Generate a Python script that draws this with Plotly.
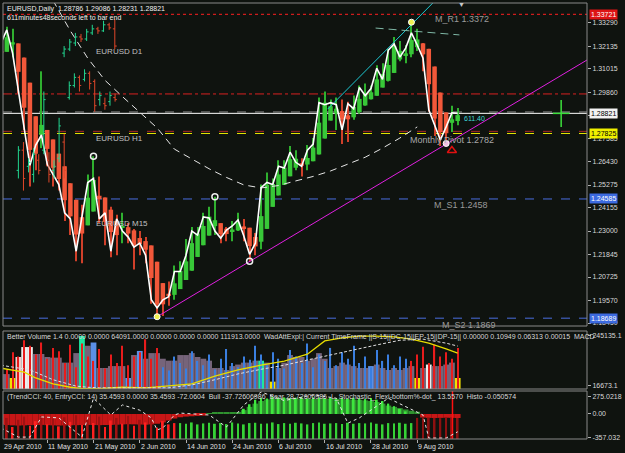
import plotly.graph_objects as go

# ---------------- data ----------------
dates = ["29 Apr 2010","30 Apr 2010","3 May 2010","4 May 2010","5 May 2010","6 May 2010","7 May 2010","10 May 2010",
         "11 May 2010","12 May 2010","13 May 2010","14 May 2010","17 May 2010","18 May 2010","19 May 2010","20 May 2010",
         "21 May 2010","24 May 2010","25 May 2010","26 May 2010","27 May 2010","28 May 2010","31 May 2010","1 Jun 2010",
         "2 Jun 2010","3 Jun 2010","4 Jun 2010","7 Jun 2010","8 Jun 2010","9 Jun 2010","10 Jun 2010","11 Jun 2010",
         "14 Jun 2010","15 Jun 2010","16 Jun 2010","17 Jun 2010","18 Jun 2010","21 Jun 2010","22 Jun 2010","23 Jun 2010",
         "24 Jun 2010","25 Jun 2010","28 Jun 2010","29 Jun 2010","30 Jun 2010","1 Jul 2010","2 Jul 2010","5 Jul 2010",
         "6 Jul 2010","7 Jul 2010","8 Jul 2010","9 Jul 2010","12 Jul 2010","13 Jul 2010","14 Jul 2010","15 Jul 2010",
         "16 Jul 2010","19 Jul 2010","20 Jul 2010","21 Jul 2010","22 Jul 2010","23 Jul 2010","26 Jul 2010","27 Jul 2010",
         "28 Jul 2010","29 Jul 2010","30 Jul 2010","2 Aug 2010","3 Aug 2010","4 Aug 2010","5 Aug 2010","6 Aug 2010",
         "9 Aug 2010","10 Aug 2010","11 Aug 2010","12 Aug 2010","13 Aug 2010","16 Aug 2010","17 Aug 2010","18 Aug 2010"]
date_tick_idx = [0, 8, 16, 24, 32, 40, 48, 56, 64, 72]

opens = [1.3150,1.3230,1.3295,1.3180,1.3000,1.2820,1.2625,1.2725,1.2775,1.2630,
         1.2580,1.2530,1.2390,1.2360,1.2200,1.2380,1.2540,1.2560,1.2360,1.2390,
         1.2200,1.2360,1.2300,1.2270,1.2220,1.2240,1.2180,1.1960,1.1920,1.1960,
         1.1975,1.2100,1.2100,1.2180,1.2300,1.2280,1.2370,1.2365,1.2300,1.2265,
         1.2305,1.2325,1.2355,1.2275,1.2185,1.2240,1.2515,1.2540,1.2530,1.2620,
         1.2612,1.2690,1.2640,1.2620,1.2700,1.2730,1.2935,1.2925,1.2935,1.2925,
         1.2800,1.2930,1.2905,1.3010,1.2970,1.3005,1.3105,1.3050,1.3195,1.3225,
         1.3160,1.3205,1.3280,1.3220,1.3155,1.2900,1.2825,1.2750,1.2815,1.2879]
highs = [1.3240,1.3310,1.3300,1.3190,1.3020,1.2840,1.2780,1.3090,1.2800,1.2720,
         1.2620,1.2540,1.2460,1.2420,1.2430,1.2580,1.2670,1.2570,1.2400,1.2420,
         1.2380,1.2390,1.2340,1.2310,1.2300,1.2270,1.2190,1.1990,1.1990,1.2050,
         1.2130,1.2150,1.2260,1.2320,1.2320,1.2390,1.2420,1.2469,1.2330,1.2320,
         1.2350,1.2390,1.2360,1.2290,1.2290,1.2530,1.2590,1.2560,1.2650,1.2650,
         1.2720,1.2700,1.2660,1.2725,1.2760,1.2960,1.2990,1.2950,1.2960,1.2950,
         1.2940,1.2970,1.3020,1.3030,1.3020,1.3120,1.3130,1.3200,1.3260,1.3240,
         1.3220,1.3333,1.3300,1.3230,1.3160,1.2930,1.2860,1.2840,1.2920,1.2909]
lows = [1.3110,1.3200,1.3160,1.2980,1.2800,1.2520,1.2600,1.2710,1.2620,1.2520,
        1.2500,1.2350,1.2280,1.2150,1.2140,1.2360,1.2440,1.2340,1.2230,1.2170,
        1.2180,1.2240,1.2240,1.2110,1.2180,1.2140,1.1940,1.1876,1.1880,1.1930,
        1.1960,1.2060,1.2060,1.2160,1.2250,1.2260,1.2330,1.2280,1.2240,1.2250,
        1.2250,1.2300,1.2250,1.2150,1.2180,1.2210,1.2470,1.2500,1.2520,1.2570,
        1.2600,1.2600,1.2570,1.2600,1.2660,1.2720,1.2890,1.2860,1.2800,1.2730,
        1.2740,1.2850,1.2880,1.2920,1.2950,1.2970,1.3020,1.3040,1.3180,1.3140,
        1.3130,1.3160,1.3190,1.3090,1.2890,1.2770,1.2720,1.2730,1.2790,1.2823]
closes = [1.3230,1.3295,1.3180,1.3000,1.2820,1.2625,1.2725,1.2775,1.2630,1.2580,
          1.2530,1.2390,1.2360,1.2200,1.2380,1.2540,1.2560,1.2360,1.2390,1.2200,
          1.2360,1.2300,1.2270,1.2220,1.2240,1.2180,1.1960,1.1920,1.1960,1.1975,
          1.2100,1.2100,1.2180,1.2300,1.2280,1.2370,1.2365,1.2300,1.2265,1.2305,
          1.2325,1.2355,1.2275,1.2185,1.2240,1.2515,1.2540,1.2530,1.2620,1.2612,
          1.2690,1.2640,1.2620,1.2700,1.2730,1.2935,1.2925,1.2935,1.2925,1.2800,
          1.2930,1.2905,1.3010,1.2970,1.3005,1.3105,1.3050,1.3195,1.3225,1.3160,
          1.3205,1.3280,1.3220,1.3155,1.2900,1.2825,1.2750,1.2815,1.2885,1.2882]

price_ticks = [1.33290, 1.32135, 1.31015, 1.29860, 1.28705, 1.27585, 1.26430,
               1.25275, 1.24155, 1.23000, 1.21845, 1.20725, 1.19570, 1.18450]

# horizontal levels: M_R1, D1 level, grey, bid, dark red, pivot, M_S1, M_S2
level_prices = [1.3372, 1.2978, 1.2889, 1.28821, 1.2793, 1.27825, 1.24585, 1.18689]

# long moving average (dashed arc)
ma_idx = [9, 12, 15, 18, 21, 24, 27, 30, 33, 36, 39, 42, 45, 48, 51, 54, 57, 60, 63, 66, 69, 72]
ma_val = [1.3440, 1.3290, 1.3155, 1.3045, 1.2965, 1.2885, 1.2810, 1.2705, 1.2655, 1.2608, 1.2565,
          1.2528, 1.2513, 1.2525, 1.2548, 1.2570, 1.2597, 1.2630, 1.2665, 1.2710, 1.2760, 1.2815]

# trend lines (bar index, price)
magenta_idx = [27, 101.37]
magenta_val = [1.1876, 1.3146]
cyan_idx = [56.5, 74.7]
cyan_val = [1.2903, 1.3428]
teal_idx = [64.8, 79.3]
teal_val = [1.3304, 1.3270]

# swing markers
swing_idx = [16, 37, 43]
swing_val = [1.2670, 1.2469, 1.2150]
yellow_idx = [27, 71]
yellow_val = [1.1876, 1.3333]
pink_idx = [77]
pink_val = [1.2733]
arrow_idx = [78]
arrow_val = [1.2698]

# projection cross on the right
proj_idx = 96.9
proj_high, proj_low, proj_mid = 1.2948, 1.2815, 1.2882

# small overlaid lower-timeframe charts (left side)
mini_open  = [1.2600,1.2700,1.2620,1.2580,1.2650,1.2700,1.2650,1.2600,1.2660,1.2740,
              1.2960,1.3020,1.3060,1.3050,1.3080,1.3040,1.2950,1.2930,1.2940,1.2960]
mini_high  = [1.2720,1.2740,1.2660,1.2710,1.2680,1.2990,1.2690,1.2650,1.2860,1.2780,
              1.3040,1.3080,1.3070,1.3100,1.3090,1.3050,1.2990,1.2960,1.2990,1.2980]
mini_low   = [1.2560,1.2500,1.2590,1.2540,1.2580,1.2680,1.2540,1.2560,1.2640,1.2560,
              1.2950,1.3010,1.2990,1.3040,1.3000,1.2890,1.2920,1.2900,1.2920,1.2940]
mini_close = [1.2700,1.2560,1.2640,1.2680,1.2600,1.2950,1.2580,1.2620,1.2820,1.2600,
              1.3020,1.3060,1.3020,1.3080,1.3030,1.2920,1.2970,1.2920,1.2970,1.2950]
d1_open  = [1.3180, 1.3200, 1.3230, 1.3260, 1.3250, 1.3280, 1.3300, 1.3290, 1.3320, 1.3300]
d1_high  = [1.3215, 1.3250, 1.3280, 1.3275, 1.3300, 1.3320, 1.3310, 1.3340, 1.3330, 1.3350]
d1_low   = [1.3160, 1.3190, 1.3215, 1.3235, 1.3240, 1.3270, 1.3275, 1.3285, 1.3295, 1.3200]
d1_close = [1.3200, 1.3235, 1.3260, 1.3250, 1.3285, 1.3300, 1.3290, 1.3320, 1.3305, 1.3215]

# Better Volume panel
vol_main = [69000,69000,51000,148000,194000,194000,162000,162000,148000,145000,
            145000,122000,122000,166000,245000,200000,215000,97000,97000,106000,
            106000,106000,51000,157000,176000,140000,166000,166000,140000,131000,
            131000,157000,157000,166000,148000,140000,131000,97000,97000,88000,
            106000,113000,122000,122000,131000,131000,122000,34000,97000,122000,
            157000,148000,148000,131000,140000,166000,140000,97000,106000,122000,
            113000,106000,97000,97000,106000,113000,97000,88000,97000,88000,
            97000,106000,51000,97000,113000,106000,106000,113000,122000,51000]
vol_class = ("nnypww" + "nnnnnnnn" + "g" + "n" + "b" + "nnnnn" + "b" + "n" + "b" +
             "nnnnnnnnnnnnnnnnnnnn" + "g" + "n" + "y" + "nnnnnnnnnnnnnnnn" + "b" +
             "nnnnnnn" + "y" + "n" + "w" + "nnnn" + "y")
tick_vol = [110000,90000,170000,150000,225000,200000,160000,215000,140000,190000,
            175000,120000,205000,100000,210000,150000,130000,185000,95000,160000,
            120000,200000,110000,150000,170000,230000,140000,190000,100000,85000,
            150000,120000,95000,175000,130000,110000,160000,90000,140000,185000,
            120000,100000,150000,135000,200000,160000,110000,170000,140000,95000,
            180000,150000,120000,210000,100000,160000,130000,190000,110000,170000,
            140000,200000,120000,150000,100000,180000,130000,160000,110000,150000,
            140000,130000,160000,195000,120000,205000,150000,170000,140000,190000]
tick_class = ("rrrrrrrrrr" + "rrrrrrrrrr" + "rrrrrrrr" +
              "bbbbbbbbbb" + "bbbbbbbbbb" + "bbbbbbbbbb" + "bbbbbbbbbb" + "bbb" +
              "rrrrrrrrr")
macd_idx = [0, 4, 6, 9, 12, 14, 17, 21, 25, 29, 33, 37, 41, 45, 49, 53, 56, 59, 62, 65, 68, 71, 74, 77, 79]
macd_val = [36, 29, 19, 9, 3, 0.5, 0.5, 3, 2, 5, 9, 22, 33, 41, 48, 60, 83, 88, 91, 91, 90, 86, 79, 69, 62]
sig_idx = [0, 5, 9, 13, 15, 17, 29, 33, 37, 41, 45, 49, 53, 57, 61, 65, 69, 73, 77, 79]
sig_val = [41, 33, 16, 5, 3, 2, 2, 7, 16, 26, 34, 41, 50, 59, 67, 76, 84, 86, 79, 74]

# CCI panel
trend_cci = [-160,-170,-175,-178,-175,-172,-170,-168,-172,-175,
             -178,-176,-174,-172,-170,-168,-170,-172,-170,-168,
             -165,-160,-158,-160,-162,-165,-160,-150,-130,-100,
             -70,-50,-40,-35,-30,-25,15,18,20,20,
             22,25,60,110,160,200,225,235,240,240,
             238,236,235,232,230,232,235,236,234,230,
             225,222,218,210,200,185,160,130,110,90,
             70,50,35,-55,-60,-62,-60,-58,-60,-62]
entry_idx = list(range(42, 71))
entry_cci = [80,150,220,250,240,260,250,255,245,250,260,240,255,250,245,
             250,240,255,235,250,240,230,245,220,200,160,120,80,40]
osc_hist = [-150,-60,-200,-90,-40,-180,-110,-30,-160,-70,
            -190,-50,-120,-20,-170,-80,-140,-40,-200,-100,
            -60,-150,-30,-180,-90,-130,-50,-210,-110,-160,
            -140,-140,-150,-130,-160,-145,-135,-150,-140,-155,
            -130,-145,-160,-140,-135,-150,-145,-130,-155,-140,
            -150,-135,-145,-160,-140,-130,-150,-145,-140,-155,
            -135,-150,-140,-145,-130,-150,-160,-140,-145,-135,
            -150,-140,-60,-62,-58,-60,-64,-60,-58,-62]
osc_class = ("rrrrrrrrrr" + "rrrrrrrrrr" + "rrrrrrrrrrr" +
             "gggggggggg" + "gggggggggg" + "gggggggggg" + "gggggggggg" + "g" +
             "dddddddd")
stoch_idx = [0, 3, 5, 7, 10, 12, 14, 16, 19, 21, 24, 26, 27, 28, 30, 31, 36, 39, 42, 45,
             49, 54, 58, 60, 62, 67, 73, 74, 77, 79]
stoch_val = [23, 4, 4, 46, 44, 23, 4, 85, 50, 71, 60, 44, 19, 23, 50, 54, 50, 25, 71, 98,
             80, 92, 85, 33, 44, 85, 50, 2, 2, 15]
histo_mark_idx = 78.1

# ---------------- derived (Heiken Ashi indicator) ----------------
n = len(closes)
idx = list(range(n))
ha_close = [(o + h + l + c) / 4 for o, h, l, c in zip(opens, highs, lows, closes)]
ha_open = [(opens[0] + closes[0]) / 2]
for k in range(1, n):
    ha_open.append((ha_open[k - 1] + ha_close[k - 1]) / 2)
ha_high = [max(h, a, b) for h, a, b in zip(highs, ha_open, ha_close)]
ha_low = [min(l, a, b) for l, a, b in zip(lows, ha_open, ha_close)]
ha_up = [c >= o for o, c in zip(ha_open, ha_close)]

UP, DN = "#38c838", "#f2583a"
UPW, DNW = "#2fb02f", "#d0402a"
BG = "#0f130f"
FRAME = "#8a8a8a"
TXT = "#d8d8d8"
FONT = "Liberation Sans"
X0, X1 = 0.342, 101.37

fig = go.Figure()

# mini lower-timeframe charts (own x axes placed over the left part of the main panel)
fig.add_trace(go.Ohlc(x=list(range(len(mini_open))), open=mini_open, high=mini_high, low=mini_low,
                      close=mini_close, xaxis="x2", yaxis="y",
                      increasing=dict(line=dict(color="#22d690", width=1)),
                      decreasing=dict(line=dict(color="#e0472a", width=1)), tickwidth=0.35))
fig.add_trace(go.Ohlc(x=list(range(len(d1_open))), open=d1_open, high=d1_high, low=d1_low,
                      close=d1_close, xaxis="x3", yaxis="y",
                      increasing=dict(line=dict(color="#22d690", width=1)),
                      decreasing=dict(line=dict(color="#e0472a", width=1)), tickwidth=0.35))

# HA wicks + bodies
fig.add_trace(go.Bar(x=idx, base=ha_low, y=[h - l for h, l in zip(ha_high, ha_low)], width=0.18,
                     marker=dict(color=[UPW if u else DNW for u in ha_up], line=dict(width=0)), yaxis="y"))
fig.add_trace(go.Bar(x=idx, base=[min(a, b) for a, b in zip(ha_open, ha_close)],
                     y=[max(abs(b - a), 0.0005) for a, b in zip(ha_open, ha_close)], width=0.78,
                     marker=dict(color=[UP if u else DN for u in ha_up], line=dict(width=0)), yaxis="y"))

# MA arc, trend lines
fig.add_trace(go.Scatter(x=ma_idx, y=ma_val, mode="lines", line=dict(color="#e6e6e6", width=1, dash="7px,5px"), yaxis="y"))
fig.add_trace(go.Scatter(x=magenta_idx, y=magenta_val, mode="lines", line=dict(color="#e020e0", width=1), yaxis="y"))
fig.add_trace(go.Scatter(x=cyan_idx, y=cyan_val, mode="lines", line=dict(color="#1ec8d2", width=1), yaxis="y"))
fig.add_trace(go.Scatter(x=teal_idx, y=teal_val, mode="lines", line=dict(color="#7fb8a6", width=1, dash="8px,5px"), yaxis="y"))

# close line
fig.add_trace(go.Scatter(x=idx, y=closes, mode="lines", line=dict(color="#ffffff", width=1.6), yaxis="y"))

# swing markers
fig.add_trace(go.Scatter(x=swing_idx, y=swing_val, mode="markers", yaxis="y",
                         marker=dict(symbol="circle-open", size=6, color="#f0f0f0", line=dict(width=1.5, color="#f0f0f0"))))
fig.add_trace(go.Scatter(x=yellow_idx, y=yellow_val, mode="markers", yaxis="y",
                         marker=dict(symbol="circle", size=6, color="#f0f050", line=dict(color="#ffffff", width=1))))
fig.add_trace(go.Scatter(x=pink_idx, y=pink_val, mode="markers", yaxis="y",
                         marker=dict(symbol="circle", size=6, color="#f0c0e0", line=dict(color="#ffffff", width=1))))
fig.add_trace(go.Scatter(x=arrow_idx, y=arrow_val, mode="markers", yaxis="y",
                         marker=dict(symbol="triangle-up-open", size=8, color="#e01010", line=dict(width=1.5, color="#e01010"))))

# projection cross
fig.add_trace(go.Scatter(x=[proj_idx, proj_idx], y=[proj_high, proj_low], mode="lines",
                         line=dict(color="#3ce03c", width=1.5), yaxis="y"))
fig.add_trace(go.Scatter(x=[proj_idx], y=[proj_mid], mode="markers", yaxis="y",
                         marker=dict(symbol="line-ew", size=12, color="#3ce03c", line=dict(color="#3ce03c", width=1.5))))

# volume panel
vcol = {"n": "#76647a", "w": "#ececec", "p": "#f2caca", "y": "#f2e000", "g": "#1ee6a0", "b": "#5b8fe6"}
fig.add_trace(go.Bar(x=idx, y=vol_main, width=1.0, marker=dict(color=[vcol[c] for c in vol_class], line=dict(width=0)), yaxis="y2"))
tcol = {"r": "#e81c1c", "b": "#3a7fe0"}
fig.add_trace(go.Bar(x=idx, y=tick_vol, width=0.2, marker=dict(color=[tcol[c] for c in tick_class], line=dict(width=0)), yaxis="y2"))
fig.add_trace(go.Scatter(x=macd_idx, y=macd_val, mode="lines", line=dict(color="#e6dc00", width=1.3), yaxis="y4"))
fig.add_trace(go.Scatter(x=sig_idx, y=sig_val, mode="lines", line=dict(color="#e0e0e0", width=1, dash="3px,2px"), yaxis="y4"))

# CCI panel
fig.add_trace(go.Bar(x=idx, y=trend_cci, width=1.0,
                     marker=dict(color=["#2f922f" if v >= 0 else "#c81616" for v in trend_cci], line=dict(width=0)), yaxis="y3"))
ocol = []
for c, v in zip(osc_class, osc_hist):
    if c == "g":
        ocol.append("#36d236")
    elif c == "d":
        ocol.append("#8c1010")
    else:
        ocol.append("#ff2020" if v <= -100 else "#a01212")
fig.add_trace(go.Bar(x=idx, base=[-385] * n, y=[v + 385 for v in osc_hist], width=0.32,
                     marker=dict(color=ocol, line=dict(width=0)), yaxis="y3"))
fig.add_trace(go.Bar(x=entry_idx, y=entry_cci, width=0.32, marker=dict(color="#3ee63e", line=dict(width=0)), yaxis="y3"))
fig.add_trace(go.Scatter(x=[histo_mark_idx, histo_mark_idx], y=[-385, 354], mode="lines",
                         line=dict(color="#ff1010", width=1.5), yaxis="y3"))
fig.add_trace(go.Scatter(x=stoch_idx, y=stoch_val, mode="lines", line=dict(color="#e8e8e8", width=1, dash="3px,3px"), yaxis="y5"))

# ---------------- layout ----------------
level_styles = [("#ff2020", "dot"), ("#d82020", "dashdot"), ("#8c8c8c", "dash"), ("#ffffff", "solid"),
                ("#a82828", "dash"), ("#e8e800", "dash"), ("#4a6ee0", "dash"), ("#4a6ee0", "dash")]
shapes = []
for p, (col, dash) in zip(level_prices, level_styles):
    shapes.append(dict(type="line", xref="paper", x0=0, x1=1, yref="y", y0=p, y1=p,
                       line=dict(color=col, width=1, dash=dash), layer="below"))
for dom in ["y domain", "y2 domain", "y3 domain"]:
    shapes.append(dict(type="rect", xref="paper", x0=0, x1=1, yref=dom, y0=0, y1=1,
                       line=dict(color=FRAME, width=1), fillcolor="rgba(0,0,0,0)"))

ann = []
def txt(x, y, s, size=7, color=TXT, xref="paper", yref="paper", xanchor="left", **kw):
    ann.append(dict(x=x, y=y, xref=xref, yref=yref, text=s, showarrow=False, xanchor=xanchor,
                    yanchor="middle", font=dict(family=FONT, size=size, color=color), **kw))

def px2x(px):
    return (px - 3) / 591.0
def py2y(py):
    return (439 - py) / 436.0

txt(px2x(5), py2y(9), "EURUSD,Daily\u00a0\u00a01.28786 1.29086 1.28231 1.28821", color="#f0f0f0")
txt(px2x(5), py2y(17), "611minutes48seconds left to bar end", color="#f0f0f0")
txt(16.1, 1.3190, "EURUSD D1", size=8, color="#c0c0c0", xref="x", yref="y")
txt(16.1, 1.2760, "EURUSD H1", size=8, color="#c0c0c0", xref="x", yref="y")
txt(16.1, 1.2335, "EURUSD M15", size=8, color="#c0c0c0", xref="x", yref="y")
txt(74.7, 1.3350, "M_R1 1.3372", size=9, color="#9a9a9a", xref="x", yref="y")
txt(70.4, 1.2750, "Monthly Pivot 1.2782", size=9, color="#a8a8a8", xref="x", yref="y")
txt(74.5, 1.2428, "M_S1 1.2458", size=9, color="#9a9a9a", xref="x", yref="y")
txt(75.9, 1.1835, "M_S2 1.1869", size=9, color="#9a9a9a", xref="x", yref="y")
txt(79.8, 1.2858, "611.40", size=7, color="#40d8d8", xref="x", yref="y")
txt(79.6, py2y(5), "\u25bc", size=7, color="#c8c8c8", xref="x", xanchor="center")

txt(px2x(5), py2y(337), "Better Volume 1.4 0.0000 0.0000 64091.0000 0.0000 0.0000 0.0000 111913.0000\u00a0\u00a0"
    "WadAttExpl:| Current TimeFrame ||S-15||DC-15||EP-15||DP-15|| 0.00000 0.10949 0.06313 0.00015\u00a0\u00a0MACD")
txt(px2x(5), py2y(397), "(TrendCCI: 40, EntryCCI: 14) 35.4593 0.0000 35.4593 -72.0604\u00a0\u00a0Bull -37.72606986\u00a0\u00a0"
    "Bear 28.72606986\u00a0\u00a0L_Stochastic_Flexi-bottom%-dot_ 13.5570\u00a0\u00a0Histo -0.050574")

for i in date_tick_idx:
    txt(max(i, X0), py2y(447), dates[i], color="#e0e0e0", xref="x", xshift=-1)

# highlighted price labels on the right scale
hl = [(1.3372, "1.33721", "#dd1414", "#ffffff"), (1.28821, "1.28821", "#f2f2f2", "#000000"),
      (1.27825, "1.27825", "#f0f000", "#000000"), (1.24585, "1.24585", "#3c6ae0", "#ffffff"),
      (1.18689, "1.18689", "#3c6ae0", "#ffffff")]
for p, s, bg, fc in hl:
    ann.append(dict(x=1, xref="paper", y=p, yref="y", text=s, showarrow=False, xanchor="left", yanchor="middle",
                    xshift=2, bgcolor=bg, borderpad=1, font=dict(family=FONT, size=7, color=fc)))

axis_common = dict(showgrid=False, zeroline=False, showline=False, side="right", ticks="outside", ticklen=3,
                   tickcolor="#b0b0b0", tickfont=dict(family=FONT, size=7, color=TXT), fixedrange=True)
hidden = dict(showgrid=False, zeroline=False, showline=False, showticklabels=False, ticks="",
              tickfont=dict(family=FONT, size=7, color=TXT))

fig.update_layout(
    width=625, height=453, margin=dict(l=3, r=31, t=3, b=14, pad=0),
    paper_bgcolor=BG, plot_bgcolor="rgba(0,0,0,0)", showlegend=False, barmode="overlay", hovermode=False,
    font=dict(family=FONT, size=7, color=TXT),
    xaxis=dict(range=[X0, X1], anchor="y3", showgrid=False, zeroline=False, showline=False,
               tickvals=date_tick_idx, ticks="outside", ticklen=3, tickcolor="#b0b0b0", showticklabels=False,
               rangeslider=dict(visible=False)),
    xaxis2=dict(domain=[px2x(16), px2x(119)], range=[-0.5, 19.5], anchor="y",
                rangeslider=dict(visible=False), **hidden),
    xaxis3=dict(domain=[px2x(62), px2x(119)], range=[-0.5, 9.5], anchor="y",
                rangeslider=dict(visible=False), **hidden),
    yaxis=dict(domain=[py2y(326), 1], range=[1.18302, 1.34279], tickvals=price_ticks,
               ticktext=["%.5f" % v for v in price_ticks], **axis_common),
    yaxis2=dict(domain=[py2y(389), py2y(331)], range=[0, 268200], tickvals=[245135.1, 16673.1],
                ticktext=["245135.1", "16673.1"], ticklabelstandoff=0, **axis_common),
    yaxis3=dict(domain=[0, py2y(391)], range=[-385, 354], tickvals=[275.0218, 0, -357.032],
                ticktext=["275.0218", "0.00", "-357.032"], ticklabelstandoff=0, **axis_common),
    yaxis4=dict(overlaying="y2", range=[0, 100], side="right", **hidden),
    yaxis5=dict(overlaying="y3", range=[0, 100], side="right", **hidden),
    shapes=shapes, annotations=ann,
)

fig.write_html("out.html")
